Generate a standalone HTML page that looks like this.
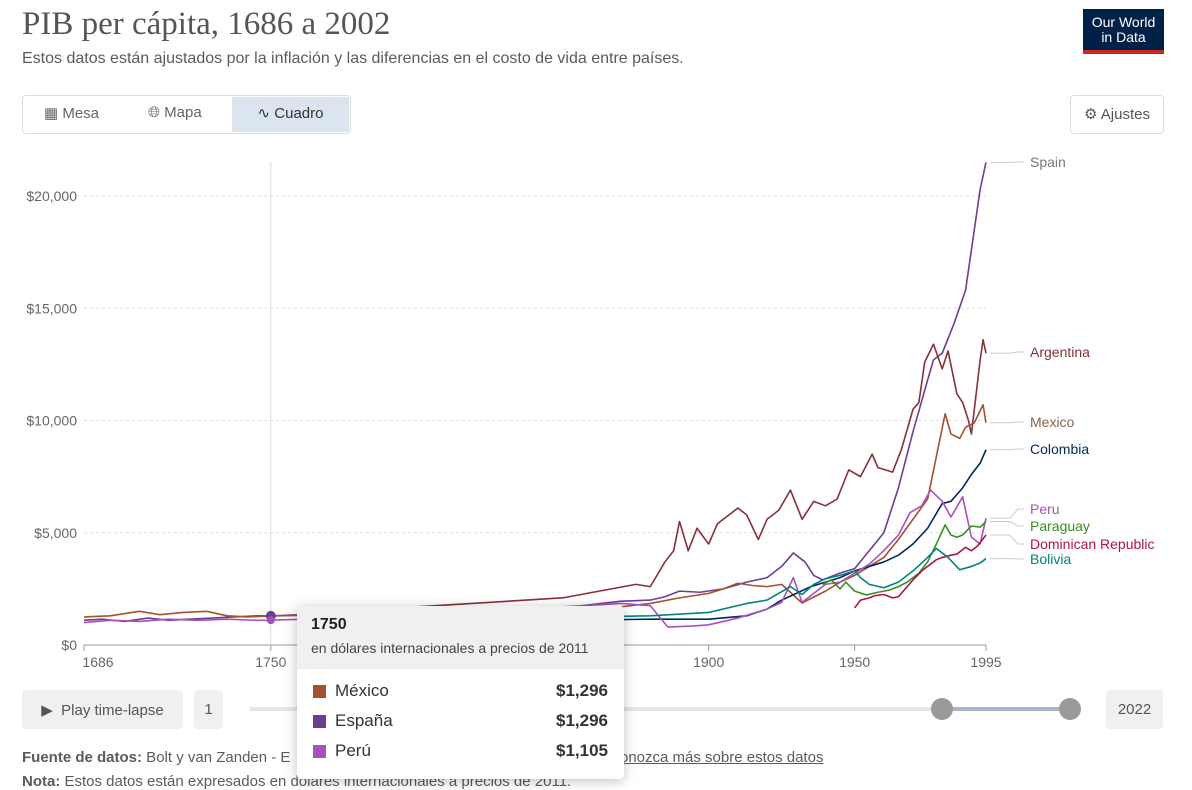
<!DOCTYPE html>
<html><head><meta charset="utf-8"><style>
body{margin:0;width:1192px;height:787px;overflow:hidden;background:#fff;font-family:"Liberation Sans",sans-serif;position:relative}
.abs{position:absolute}
.btn{position:absolute;background:#f0f0f0;border-radius:4px;color:#555;font-size:15px;display:flex;align-items:center;justify-content:center}
</style></head><body>
<div class="abs" style="left:22px;top:6px;font-family:'Liberation Serif',serif;font-size:33px;color:#555">PIB per cápita, 1686 a 2002</div>
<div class="abs" style="left:22px;top:50px;font-size:16px;color:#5b5b5b">Estos datos están ajustados por la inflación y las diferencias en el costo de vida entre países.</div>
<div class="abs" style="left:1083px;top:9px;width:81px;height:35px;background:#002147;border-bottom:4px solid #ce261e;color:#fff;font-size:14px;line-height:15px;text-align:center;padding-top:6px;box-sizing:content-box">Our World<br>in Data</div>
<div class="abs" style="left:22px;top:95px;width:327px;height:37px;border:1px solid #ddd;border-radius:4px"></div>
<div class="abs" style="left:44px;top:104px;font-size:15px;color:#666">&#9638; Mesa</div>
<div class="abs" style="left:148px;top:104px;font-size:15px;color:#666">&#127760;&#xFE0E; Mapa</div>
<div class="abs" style="left:232px;top:97px;width:117px;height:35px;background:#dbe5f0;color:#333;font-size:15px;line-height:34px;text-align:center">&#8767; Cuadro</div>
<div class="abs" style="left:1070px;top:95px;width:92px;height:37px;border:1px solid #ddd;border-radius:4px;font-size:15px;color:#555;line-height:37px;text-align:center">&#9881; Ajustes</div>

<svg id="chart" class="abs" style="left:0;top:0" width="1192" height="787"></svg>

<div class="btn" style="left:22px;top:690px;width:161px;height:39px">&#9654;&nbsp; Play time-lapse</div>
<div class="btn" style="left:194px;top:690px;width:29px;height:39px">1</div>
<div class="abs" style="left:250px;top:707px;width:820px;height:4px;background:#e6e6e6"></div>
<div class="abs" style="left:942px;top:707px;width:128px;height:4px;background:#a4b6c8"></div>
<div class="abs" style="left:931px;top:698px;width:22px;height:22px;border-radius:50%;background:#9a9a9a"></div>
<div class="abs" style="left:1059px;top:698px;width:22px;height:22px;border-radius:50%;background:#9a9a9a"></div>
<div class="btn" style="left:1106px;top:690px;width:57px;height:39px">2022</div>
<div class="abs" style="left:22px;top:749px;font-size:15px;color:#5b5b5b"><b>Fuente de datos:</b> Bolt y van Zanden - E</div>
<div class="abs" style="left:620px;top:749px;font-size:15px;color:#5b5b5b;text-decoration:underline">onozca más sobre estos datos</div>
<div class="abs" style="left:22px;top:773px;font-size:15px;color:#5b5b5b"><b>Nota:</b> Estos datos están expresados en dólares internacionales a precios de 2011.</div>

<div class="abs" style="left:297px;top:606px;width:327px;height:173px;background:#fff;border-radius:4px;box-shadow:0 2px 12px rgba(0,0,0,.25);overflow:hidden">
<div style="background:#f0f0f0;height:63px;padding:10px 14px;box-sizing:border-box">
<div style="font-size:16px;font-weight:bold;color:#222">1750</div>
<div style="font-size:14px;color:#444;margin-top:6px">en dólares internacionales a precios de 2011</div></div>
<div style="padding:12px 16px 0 16px;font-size:17px;color:#333">
<div style="display:flex;height:30px"><span style="width:13px;height:13px;background:#a2522f;margin:4px 9px 0 0"></span>México<b style="margin-left:auto">$1,296</b></div>
<div style="display:flex;height:30px"><span style="width:13px;height:13px;background:#6d3e91;margin:4px 9px 0 0"></span>España<b style="margin-left:auto">$1,296</b></div>
<div style="display:flex;height:30px"><span style="width:13px;height:13px;background:#a652ba;margin:4px 9px 0 0"></span>Perú<b style="margin-left:auto">$1,105</b></div>
</div></div>

<script>
const yTicks=[0,5000,10000,15000,20000];
const yTickLabels=["$0","$5,000","$10,000","$15,000","$20,000"];
const xTicks=[1686,1750,1900,1950,1995];
const spainYears=[1686,1692,1700,1708,1715,1722,1730,1737,1745,1750,1760,1780,1800,1820,1850,1870,1880,1885,1890,1897,1905,1913,1920,1925,1929,1933,1936,1939,1945,1950,1955,1960,1965,1970,1975,1977,1980,1984,1988,1990,1993,1995];
const spainVals=[1100,1150,1050,1200,1100,1150,1200,1250,1300,1296,1350,1400,1450,1500,1650,1950,2000,2150,2400,2350,2500,2800,3000,3500,4100,3700,3100,2900,3200,3400,4200,5000,7000,9500,11800,12700,13000,14300,15800,17600,20300,21500];
const mexYears=[1686,1695,1705,1712,1720,1728,1735,1742,1750,1800,1850,1870,1880,1890,1900,1905,1910,1915,1920,1925,1932,1940,1945,1950,1955,1960,1965,1970,1975,1981,1983,1986,1988,1991,1994,1995];
const mexVals=[1250,1300,1500,1350,1450,1500,1300,1250,1296,1400,1550,1700,1850,2100,2300,2500,2750,2650,2600,2700,1870,2400,2800,3100,3500,3900,4700,5600,6500,10300,9400,9200,9700,9900,10700,9900];
const peruYears=[1686,1695,1705,1715,1725,1735,1745,1750,1800,1850,1870,1880,1886,1895,1900,1910,1920,1925,1929,1932,1940,1945,1950,1955,1960,1965,1969,1973,1976,1980,1983,1987,1990,1993,1995];
const peruVals=[1000,1100,1050,1150,1100,1150,1100,1105,1300,1700,1850,1750,800,850,900,1200,1600,1900,3000,1900,2700,2800,3200,3600,4200,4900,5900,6200,6900,6400,5700,6600,4800,4500,5650];
const argYears=[1760,1800,1850,1875,1880,1885,1888,1890,1893,1896,1900,1903,1906,1910,1913,1917,1920,1924,1928,1932,1936,1940,1944,1948,1952,1956,1958,1963,1966,1970,1972,1974,1977,1980,1982,1985,1987,1989,1990,1993,1994,1995];
const argVals=[1500,1700,2100,2700,2600,3700,4200,5500,4200,5200,4500,5400,5700,6100,5800,4700,5600,6000,6900,5600,6400,6200,6500,7800,7500,8500,7900,7700,8700,10500,10800,12600,13400,12300,13100,11200,10800,10000,9400,12700,13600,13000];
const colYears=[1850,1880,1900,1913,1920,1925,1930,1935,1940,1945,1950,1955,1960,1965,1970,1975,1980,1983,1987,1990,1993,1995];
const colVals=[1100,1150,1150,1300,1600,2000,2300,2600,2800,3000,3300,3500,3700,4000,4500,5200,6300,6400,7000,7600,8100,8700];
const bolYears=[1860,1880,1900,1913,1920,1928,1932,1936,1940,1945,1950,1952,1955,1960,1965,1970,1975,1978,1982,1986,1990,1993,1995];
const bolVals=[1250,1300,1450,1850,2000,2600,2250,2700,2950,3100,3300,3000,2700,2550,2800,3300,3900,4300,3900,3350,3500,3650,3850];
const parYears=[1939,1942,1945,1947,1950,1954,1958,1962,1965,1968,1972,1975,1978,1981,1983,1985,1987,1990,1993,1995];
const parVals=[2700,2900,2500,2800,2400,2230,2350,2450,2600,2800,3200,3700,4500,5350,4900,4800,4900,5300,5250,5500];
const domYears=[1950,1952,1955,1957,1960,1963,1965,1968,1970,1973,1975,1978,1980,1983,1985,1988,1990,1992,1995];
const domVals=[1650,2000,2100,2200,2250,2100,2150,2600,2900,3300,3500,3800,3900,4000,4050,4350,4200,4400,4900];
const series=[
 {name:"spain",label:"Spain",c:"#6d3e91",lc:"#777",xs:spainYears,ys:spainVals,ly:162},
 {name:"argentina",label:"Argentina",c:"#883039",lc:"#883039",xs:argYears,ys:argVals,ly:352},
 {name:"mexico",label:"Mexico",c:"#a2522f",lc:"#8a6250",xs:mexYears,ys:mexVals,ly:422},
 {name:"colombia",label:"Colombia",c:"#00295b",lc:"#00295b",xs:colYears,ys:colVals,ly:449},
 {name:"peru",label:"Peru",c:"#a652ba",lc:"#a652ba",xs:peruYears,ys:peruVals,ly:509},
 {name:"paraguay",label:"Paraguay",c:"#3b8e22",lc:"#3b8e22",xs:parYears,ys:parVals,ly:526},
 {name:"dominican-republic",label:"Dominican Republic",c:"#b0124f",lc:"#b0124f",xs:domYears,ys:domVals,ly:544},
 {name:"bolivia",label:"Bolivia",c:"#00847e",lc:"#00847e",xs:bolYears,ys:bolVals,ly:559}];
const X=y=>84+(y-1686)*(986-84)/(1995-1686);
const Y=v=>645-v*(645-196)/20000;
const svg=document.getElementById('chart');const NS="http://www.w3.org/2000/svg";
function mk(t,a,p){const e=document.createElementNS(NS,t);for(const k in a)e.setAttribute(k,a[k]);(p||svg).appendChild(e);return e;}
yTicks.forEach((v,i)=>{
 const g=mk('line',{x1:84,x2:986,y1:Y(v),y2:Y(v),stroke:v?'#ddd':'#999','stroke-dasharray':v?'3,3':''});
 
 
 const t=mk('text',{x:77,y:Y(v)+5,'text-anchor':'end','font-size':14,fill:'#666'});t.textContent=yTickLabels[i];
 
 
});
xTicks.forEach(v=>{
 const l=mk('line',{x1:X(v),x2:X(v),y1:645,y2:651,stroke:'#999'});
 
 
 const t=mk('text',{x:X(v)+(v==1686?14:0),y:667,'text-anchor':'middle','font-size':14,fill:'#666'});t.textContent=v;
 
 
});
const hl=mk('line',{x1:X(1750),x2:X(1750),y1:162,y2:645,stroke:'#ddd'});


series.forEach(s=>{
 const p=mk('polyline',{points:s.xs.map((x,i)=>X(x)+','+Y(s.ys[i])).join(' '),fill:'none',stroke:s.c,'stroke-width':1.6,'stroke-linejoin':'round'});
 
 
 const ey=Y(s.ys[s.ys.length-1]);
 const c=mk('polyline',{points:`990,${ey} 1010,${ey} 1018,${s.ly} 1024,${s.ly}`,fill:'none',stroke:'#ccc'});
 
 
 const t=mk('text',{x:1030,y:s.ly+5,'font-size':14,fill:s.lc});t.textContent=s.label;
 
 
});
const d1=mk('circle',{cx:X(1750),cy:Y(1296),r:5,fill:'#6d3e91'});


const d2=mk('circle',{cx:X(1750),cy:Y(1105),r:4,fill:'#a652ba'});


</script>
</body></html>
